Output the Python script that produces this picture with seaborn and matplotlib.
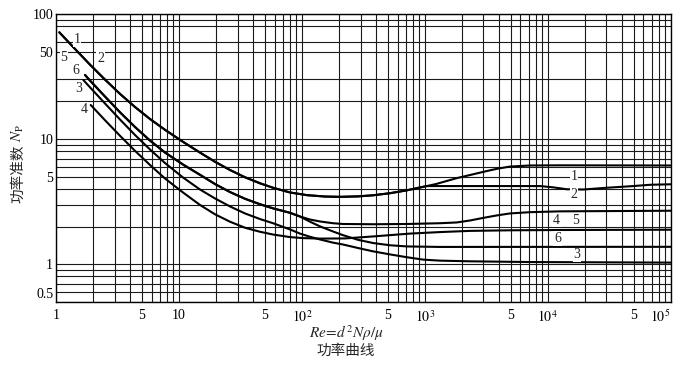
import numpy as np
import pandas as pd
import seaborn as sns
import matplotlib.pyplot as plt
from matplotlib.ticker import NullFormatter
from matplotlib.transforms import ScaledTranslation

# power curves (Re, Np)
# curves 1 and 2 share the laminar part
re_12 = [1.064, 1.427, 1.890, 2.504, 3.316, 4.391, 5.815, 7.701, 10.79, 14.84, 19.65, 26.02, 34.46, 45.64, 58.24, 80.07, 110.0, 154.2, 204.2, 286.1, 378.8, 521.2, 712.2, 1036]
np_12 = [71.4, 52.6, 39.4, 29.9, 23.0, 18.07, 14.49, 11.88, 9.52, 7.81, 6.60, 5.67, 4.96, 4.44, 4.09, 3.75, 3.57, 3.48, 3.46, 3.49, 3.56, 3.70, 3.90, 4.22]
re_1 = [1233, 1816, 2331, 2990, 3865, 4932, 7172, 12580, 100000]
np_1 = [4.38, 4.88, 5.17, 5.48, 5.80, 6.04, 6.16, 6.18, 6.16]
re_2 = [1507, 4932, 8648, 11100, 14260, 19460, 30170, 49640, 67860, 100000]
np_2 = [4.22, 4.22, 4.22, 4.12, 3.98, 3.96, 4.09, 4.22, 4.32, 4.36]

# curves 5 and 6 share the laminar part and split near Re=100
re_56 = [1.721, 1.890, 2.504, 3.316, 4.391, 5.815, 7.701, 10.79, 14.84, 19.65, 26.02, 34.46, 45.64, 58.24, 80.07, 96.5]
np_56 = [32.6, 29.4, 21.9, 16.39, 12.51, 9.75, 7.82, 6.27, 5.19, 4.38, 3.78, 3.34, 3.02, 2.80, 2.58, 2.41]
re_5 = [116.4, 140.4, 179.1, 216.0, 378.8, 712.2, 1329, 1816, 2331, 2990, 3865, 4932, 7172, 12580, 100000]
np_5 = [2.28, 2.20, 2.13, 2.10, 2.09, 2.10, 2.13, 2.16, 2.24, 2.35, 2.46, 2.55, 2.61, 2.65, 2.68]
re_6 = [116.4, 140.4, 179.1, 216.0, 286.1, 378.8, 521.2, 712.2, 1329, 100000]
np_6 = [2.19, 2.01, 1.83, 1.71, 1.57, 1.48, 1.42, 1.39, 1.377, 1.38]

re_3 = [1.668, 1.890, 2.504, 3.316, 4.391, 5.815, 7.701, 10.79, 14.84, 19.65, 26.02, 34.46, 45.64, 58.24, 80.07, 96.5, 116.4, 140.4, 179.1, 216.0, 286.1, 378.8, 521.2, 712.2, 972, 1329, 2331, 7172, 100000]
np_3 = [29.7, 25.96, 19.27, 14.36, 10.80, 8.27, 6.45, 4.94, 3.96, 3.36, 2.90, 2.55, 2.30, 2.13, 1.90, 1.76, 1.66, 1.58, 1.49, 1.44, 1.35, 1.27, 1.20, 1.14, 1.09, 1.07, 1.057, 1.043, 1.032]

re_4 = [1.916, 2.504, 3.316, 4.391, 5.815, 7.701, 10.79, 14.84, 19.65, 26.02, 34.46, 45.64, 58.24, 80.07, 102.1, 140.4, 224.2, 378.8, 757.5, 1329, 2331, 4932, 12580, 100000]
np_4 = [18.75, 14.17, 10.64, 8.07, 6.22, 4.85, 3.75, 2.98, 2.51, 2.19, 1.96, 1.82, 1.73, 1.65, 1.62, 1.605, 1.61, 1.67, 1.76, 1.81, 1.85, 1.87, 1.88, 1.89]

xtick_vals = [1, 5, 10, 50, 100, 500, 1000, 5000, 1e4, 5e4, 1e5]
xtick_text = ['1', '5', '10', '5', '$10^2$', '5', '$10^3$', '5', '$10^4$', '5', '$10^5$']
ytick_vals = [0.5, 1, 5, 10, 50, 100]
ytick_text = ['0.5', '1', '5', '10', '50', '100']
y_grid = [0.6, 0.7, 0.8, 0.9, 2, 3, 4, 6, 7, 8, 9, 20, 30, 60, 80, 90]

# curve labels: (text, Re, Np)
labels_left = [('1', 1.48, 62), ('5', 1.16, 45), ('2', 2.31, 44.3), ('6', 1.45, 35.2), ('3', 1.52, 25.5), ('4', 1.69, 17.3)]
labels_right = [('1', 16300, 5.0), ('2', 16300, 3.58), ('4', 11800, 2.26), ('5', 16700, 2.26), ('6', 12000, 1.61), ('3', 17300, 1.19)]

curves = {
    '1': (re_12 + re_1, np_12 + np_1),
    '2': (re_12 + re_2, np_12 + np_2),
    '5': (re_56 + re_5, np_56 + np_5),
    '6': (re_56 + re_6, np_56 + np_6),
    '3': (re_3, np_3),
    '4': (re_4, np_4),
}
df = pd.concat([pd.DataFrame({'Re': r, 'Np': n, 'curve': k}) for k, (r, n) in curves.items()])

sns.set_style('white')
plt.rcParams['font.family'] = ['Liberation Serif', 'Noto Sans CJK SC']
plt.rcParams['mathtext.fontset'] = 'stix'

fig = plt.figure(figsize=(6.86, 3.82), dpi=100)
ax = fig.add_axes([56 / 686, 80 / 382, 614.7 / 686, 288 / 382])

sns.lineplot(data=df, x='Re', y='Np', units='curve', estimator=None, color='black', lw=1.5, ax=ax, zorder=3)

ax.set_xscale('log')
ax.set_yscale('log')
ax.set_xlim(1, 1e5)
ax.set_ylim(0.5, 100)

x_grid = [m * d for d in [1, 10, 100, 1000, 10000] for m in range(2, 10)]
ax.set_xticks(x_grid, minor=True)
ax.set_yticks(y_grid, minor=True)
ax.set_xticks(xtick_vals, xtick_text)
ax.set_yticks(ytick_vals, ytick_text)
ax.xaxis.set_minor_formatter(NullFormatter())
ax.yaxis.set_minor_formatter(NullFormatter())
ax.tick_params(which='both', length=0, labelsize=10, colors='black')
ax.tick_params(axis='x', pad=5)
ax.tick_params(axis='y', pad=2)
ax.grid(True, which='both', color='#1a1a1a', lw=0.8)
ax.set_axisbelow(True)
for s in ax.spines.values():
    s.set_color('black')
    s.set_linewidth(1.0)
ax.set_xlabel('')
ax.set_ylabel('')

fig.canvas.draw()
ax.get_xticklabels()[-1].set_horizontalalignment('right')
lbl = ax.get_yticklabels()[0]
lbl.set_transform(lbl.get_transform() + ScaledTranslation(0, 0.09, fig.dpi_scale_trans))

for t, x, y in labels_left + labels_right:
    ax.text(x, y, t, ha='center', va='center', fontsize=10, zorder=4,
            bbox=dict(facecolor='white', edgecolor='none', pad=0.6))

fig.text(18 / 686, 1 - 174 / 382, '功率准数', rotation=90, ha='center', va='center',
         fontsize=10.5, family=['Noto Sans CJK SC'])
fig.text(18 / 686, 1 - 133 / 382, r'$N_\mathrm{P}$', rotation=90, ha='center', va='center', fontsize=11)
fig.text(346 / 686, 1 - 333 / 382, r'$Re\!=\!d^2N\rho/\mu$', ha='center', va='center', fontsize=11)
fig.text(346 / 686, 1 - 351 / 382, '功率曲线', ha='center', va='center', fontsize=10.5)

fig.savefig('out.png', dpi=100, facecolor='white')
